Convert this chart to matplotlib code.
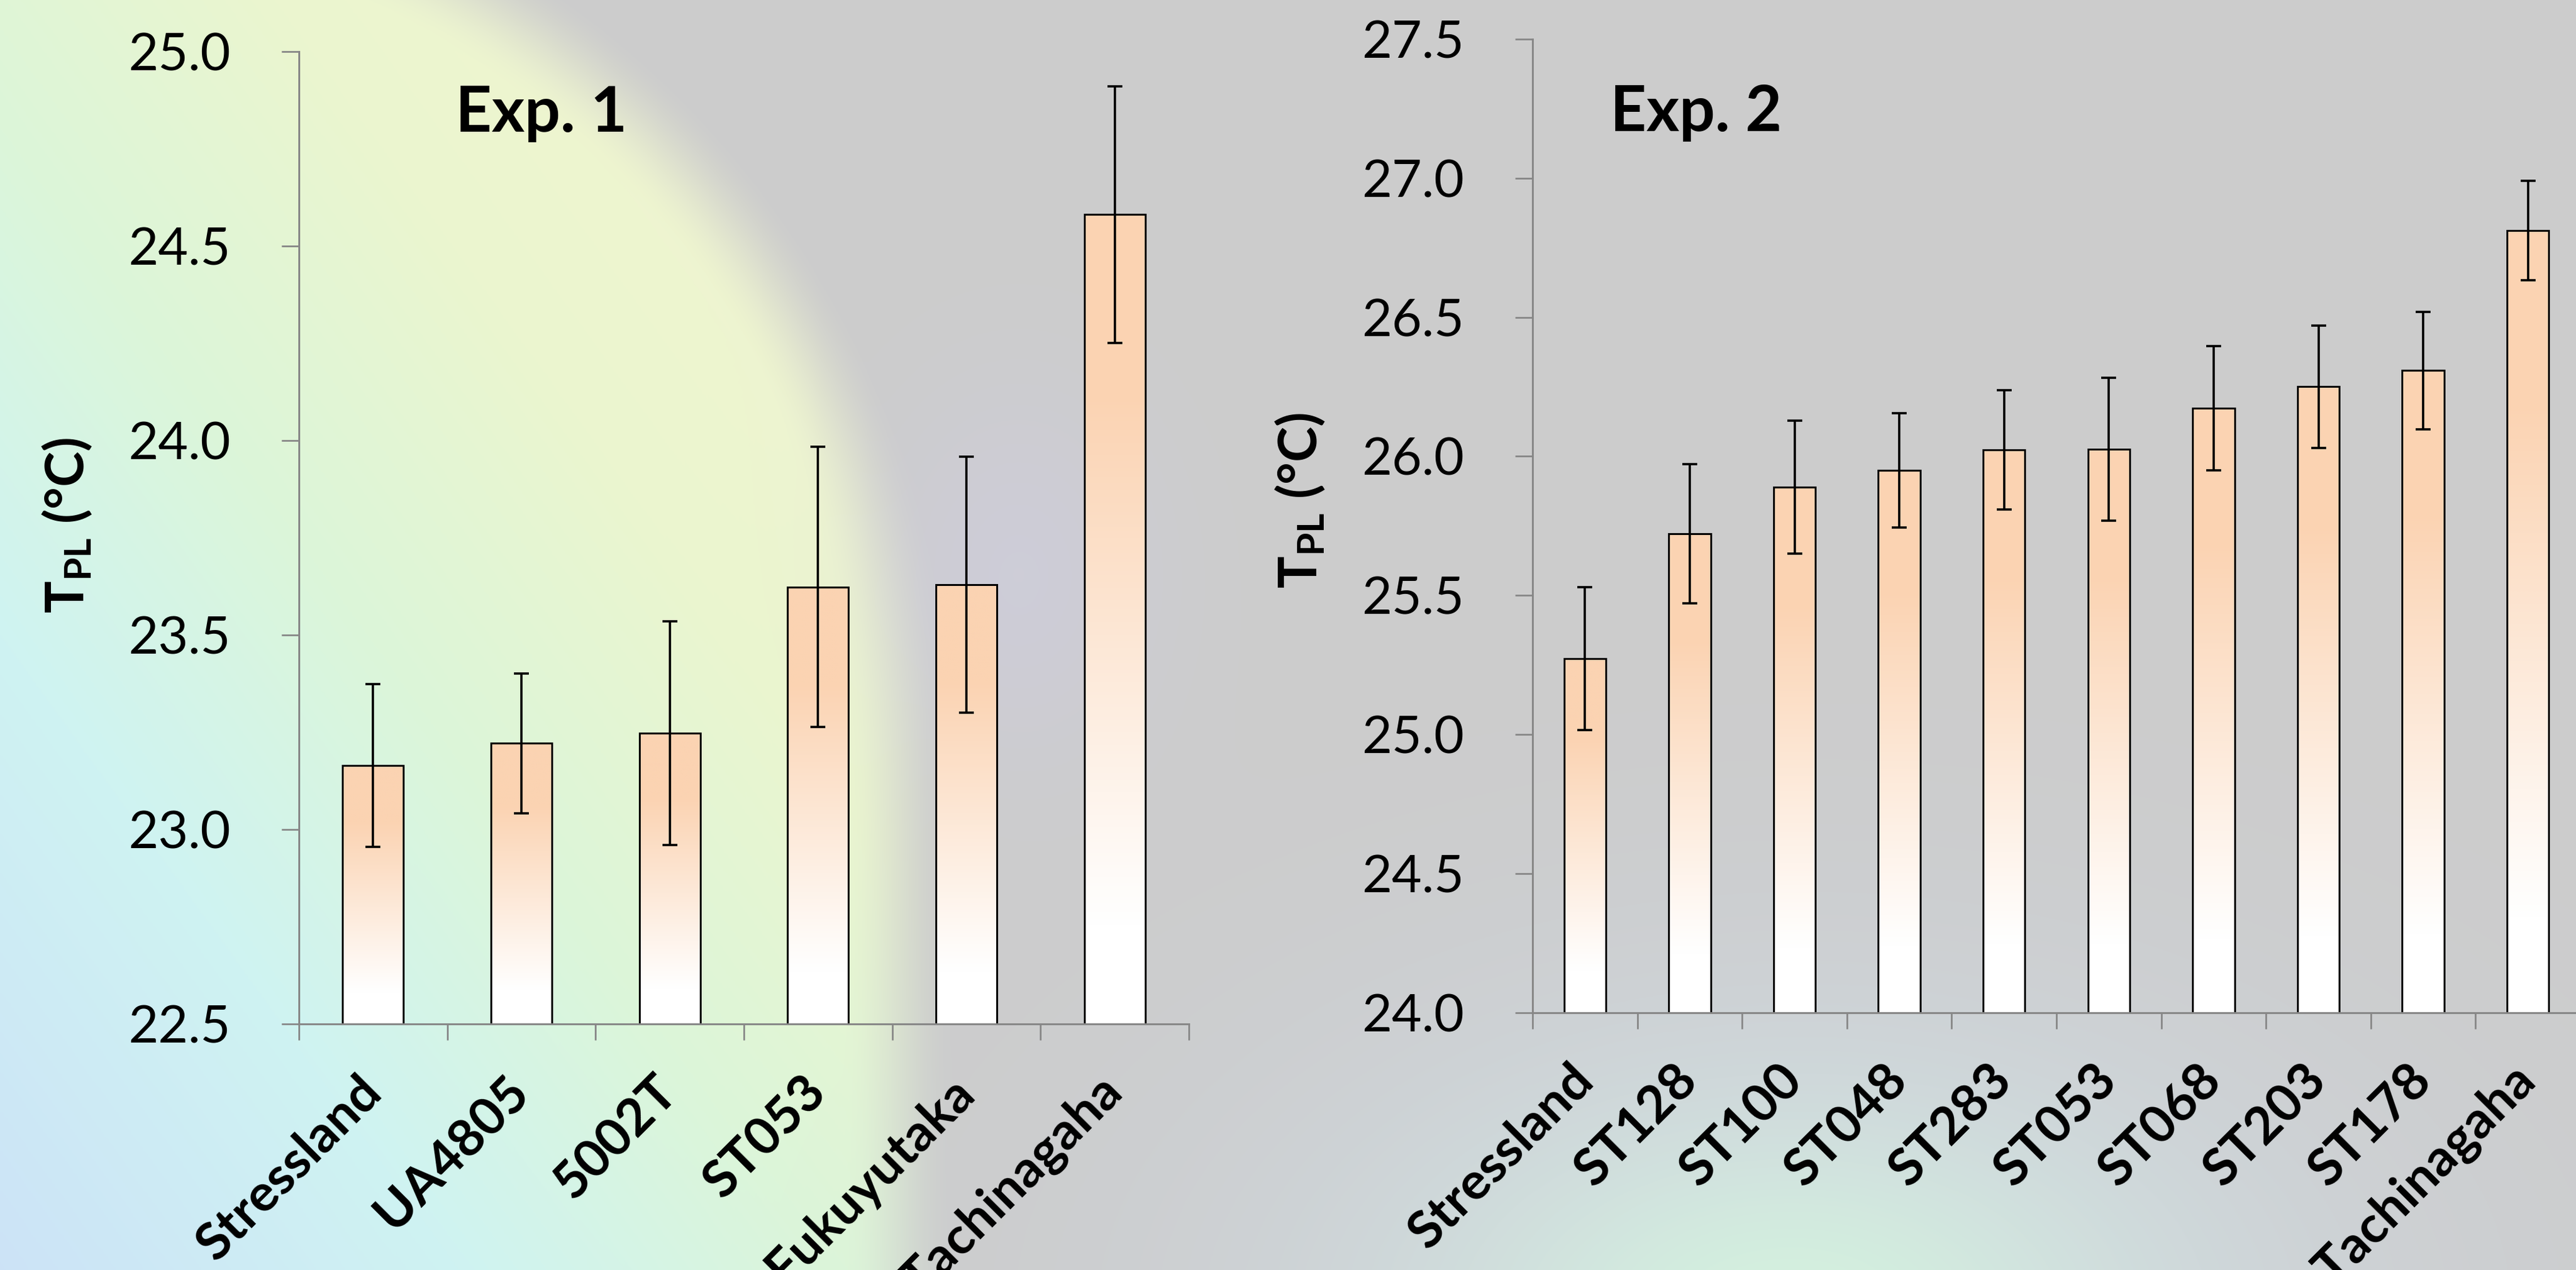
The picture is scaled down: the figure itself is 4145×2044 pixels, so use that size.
import numpy as np
import matplotlib
matplotlib.use('Agg')
import matplotlib.pyplot as plt
from matplotlib.colors import LinearSegmentedColormap, to_rgb

# ---------------- data ----------------
exp1_labels = ['Stressland', 'UA4805', '5002T', 'ST053', 'Fukuyutaka', 'Tachinagaha']
exp1_means = [23.165, 23.222, 23.248, 23.624, 23.630, 24.582]
exp1_err = [0.209, 0.180, 0.288, 0.360, 0.329, 0.330]

exp2_labels = ['Stressland', 'ST128', 'ST100', 'ST048', 'ST283', 'ST053',
               'ST068', 'ST203', 'ST178', 'Tachinagaha']
exp2_means = [25.272, 25.722, 25.889, 25.950, 26.023, 26.025, 26.173, 26.250, 26.308, 26.812]
exp2_err = [0.257, 0.250, 0.240, 0.206, 0.214, 0.257, 0.224, 0.221, 0.211, 0.179]

exp1_yticks = [22.5, 23.0, 23.5, 24.0, 24.5, 25.0]
exp2_yticks = [24.0, 24.5, 25.0, 25.5, 26.0, 26.5, 27.0, 27.5]
titles = ['Exp. 1', 'Exp. 2']

# ---------------- style ----------------
plt.rcParams['font.family'] = ['Lato', 'DejaVu Sans']
plt.rcParams['mathtext.fontset'] = 'custom'
plt.rcParams['mathtext.rm'] = 'Lato'
plt.rcParams['mathtext.bf'] = 'Lato:bold'
plt.rcParams['mathtext.it'] = 'Lato:italic'

W_PX, H_PX, DPI = 4145, 2044, 100
fig = plt.figure(figsize=(W_PX / DPI, H_PX / DPI), dpi=DPI)
fig.patch.set_facecolor('#cccccc')

AXIS_GRAY = '#878787'
PEACH = '#FBD3B2'


def background():
    W, H = 1568, 773
    X, Y = np.meshgrid(np.arange(W) + 0.5, np.arange(H) + 0.5)
    img = np.ones((H, W, 3)) * 0.8
    dy = np.minimum(Y - 450, 0)
    d = np.sqrt((X - 25) ** 2 + dy ** 2) / 530
    a = np.clip((1.05 - d) / 0.13, 0, 1)
    a = a * a * (3 - 2 * a)
    t = np.clip((X / 560 + (1 - Y / 773)) / 2, 0, 1)
    cmap = LinearSegmentedColormap.from_list(
        'bg', [(0, '#CCE3F7'), (0.25, '#CFF3F2'), (0.45, '#DCF6D9'),
               (0.65, '#EBF6CF'), (1, '#F4F3D2')])
    col = cmap(t)[..., :3]
    img = img * (1 - a[..., None]) + col * a[..., None]
    gp = np.exp(-(((X - 620) / 60) ** 2 + ((Y - 350) / 80) ** 2) / 2) * 0.5
    img = img * (1 - gp[..., None]) + np.array(to_rgb('#D0CEE3')) * gp[..., None]
    g1 = np.exp(-(((X - 1100) / 250) ** 2 + ((Y - 800) / 150) ** 2) / 2) * 0.9
    img = img * (1 - g1[..., None]) + np.array(to_rgb('#D0DAE4')) * g1[..., None]
    g2 = np.exp(-(((X - 1090) / 130) ** 2 + ((Y - 800) / 75) ** 2) / 2) * 0.9
    img = img * (1 - g2[..., None]) + np.array(to_rgb('#D4F3DE')) * g2[..., None]
    return img


bg_ax = fig.add_axes([0, 0, 1, 1], zorder=-10)
bg_ax.imshow(background(), extent=[0, 1, 0, 1], aspect='auto',
             interpolation='bilinear', origin='upper')
bg_ax.set_axis_off()

grad_cmap = LinearSegmentedColormap.from_list(
    'bar', [(0, PEACH), (0.22, PEACH), (0.88, '#FFFFFF'), (1, '#FFFFFF')])
grad = np.linspace(0, 1, 256).reshape(-1, 1)


def panel(rect, labels, means, errs, yticks, width):
    ax = fig.add_axes(rect)
    ax.set_facecolor('none')
    ymin, ymax = yticks[0], yticks[-1]
    n = len(labels)
    x = np.arange(n)
    heights = np.array(means) - ymin
    bars = ax.bar(x, heights, bottom=ymin, width=width, facecolor='none',
                  edgecolor='black', linewidth=2.2, zorder=3)
    for p in bars.patches:
        x0, y0, w, h = p.get_x(), p.get_y(), p.get_width(), p.get_height()
        ax.imshow(grad, cmap=grad_cmap, extent=(x0, x0 + w, y0, y0 + h),
                  aspect='auto', origin='upper', zorder=2, interpolation='bilinear')
    ax.errorbar(x, means, yerr=errs, fmt='none', ecolor='black', elinewidth=2.6,
                capsize=8.6, capthick=2.6, zorder=4)
    ax.set_xlim(-0.5, n - 0.5)
    ax.set_ylim(ymin, ymax)
    ax.set_aspect('auto')
    for s in ['top', 'right']:
        ax.spines[s].set_visible(False)
    for s in ['left', 'bottom']:
        ax.spines[s].set_color(AXIS_GRAY)
        ax.spines[s].set_linewidth(2.2)
        ax.spines[s].set_zorder(5)
    ax.set_yticks(yticks)
    ax.set_yticklabels([f'{v:.1f}' for v in yticks])
    ax.tick_params(axis='y', direction='out', length=20, width=2.0,
                   color=AXIS_GRAY, pad=59, labelsize=60)
    ax.set_xticks(np.arange(n + 1) - 0.5, minor=True)
    ax.tick_params(axis='x', which='minor', direction='out', length=19, width=2.0,
                   color=AXIS_GRAY)
    ax.set_xticks(x)
    ax.set_xticklabels(labels, rotation=45, ha='right', va='center',
                       rotation_mode='anchor', fontweight='bold')
    ax.tick_params(axis='x', which='major', length=0, pad=70, labelsize=60)
    return ax


ax1 = panel([481 / W_PX, 1 - 1648 / H_PX, (1913 - 481) / W_PX, (1648 - 83.5) / H_PX],
            exp1_labels, exp1_means, exp1_err, exp1_yticks, 0.41)
ax2 = panel([2466 / W_PX, 1 - 1629.6 / H_PX, 1686 / W_PX, (1629.6 - 62.9) / H_PX],
            exp2_labels, exp2_means, exp2_err, exp2_yticks, 0.40)

ylab = r'$\mathbf{T}_{\mathbf{PL}}$ (°C)'
fig.text(108 / W_PX, 1 - 845 / H_PX, ylab, rotation=90, ha='center', va='center',
         fontsize=62, fontweight='bold')
fig.text(2092 / W_PX, 1 - 805 / H_PX, ylab, rotation=90, ha='center', va='center',
         fontsize=62, fontweight='bold')

fig.text(733 / W_PX, 1 - 212 / H_PX, titles[0], ha='left', va='baseline',
         fontsize=73, fontweight='bold')
fig.text(2591 / W_PX, 1 - 211 / H_PX, titles[1], ha='left', va='baseline',
         fontsize=73, fontweight='bold')

fig.savefig('out.png', dpi=DPI, facecolor=fig.get_facecolor())
